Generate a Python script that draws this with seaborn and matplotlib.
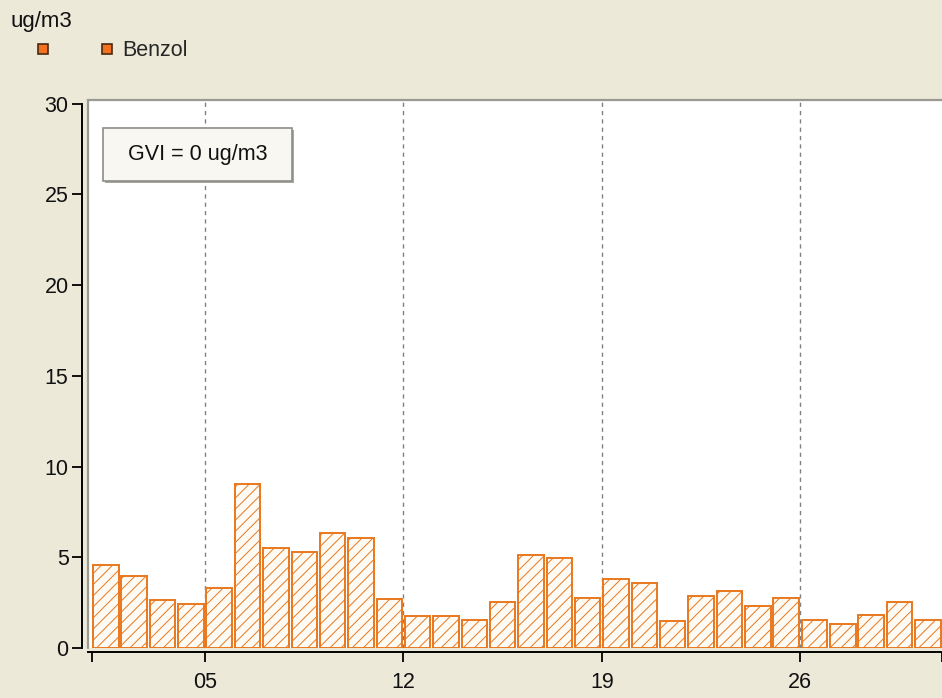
# Benzol daily means, one month, hatched bars like the old monitoring tool
import numpy as np
import pandas as pd
import seaborn as sns
import matplotlib.pyplot as plt
import matplotlib.patches as mpatches
from matplotlib.lines import Line2D

# data
days = list(range(1, 31))
benzol = [4.55, 3.95, 2.65, 2.45, 3.3, 9.05, 5.5, 5.3, 6.35, 6.05,
          2.7, 1.75, 1.75, 1.55, 2.55, 5.15, 4.95, 2.75, 3.8, 3.6,
          1.5, 2.85, 3.15, 2.3, 2.75, 1.55, 1.35, 1.8, 2.55, 1.55]
tick_days = [5, 12, 19, 26]
tick_labels = ["05", "12", "19", "26"]
edge_days = [1, 31]
y_ticks = [0, 5, 10, 15, 20, 25, 30]
unit = "ug/m3"
series_name = "Benzol"
gvi_text = "GVI = 0 ug/m3"

bg = "#ECE9D8"
orange = "#E8781E"

sns.set_theme(style="white")
plt.rcParams["font.family"] = ["Liberation Sans", "DejaVu Sans"]
plt.rcParams["hatch.linewidth"] = 0.7

W, H = 942, 698
fig = plt.figure(figsize=(W / 100, H / 100), dpi=100, facecolor=bg)
ax = fig.add_axes([88 / W, 1 - 648 / H, (942 - 88) / W, (648 - 100) / H])
ax.set_facecolor("white")

df = pd.DataFrame({"day": days, "value": benzol})
df["pos"] = df["day"] + 0.5

sns.barplot(data=df, x="pos", y="value", native_scale=True, width=0.9,
            color="#FFFAF3", edgecolor=orange, linewidth=1.4, hatch="///",
            ax=ax, zorder=3)

ax.set_xlim(0.87, 31.0)
ax.set_ylim(0, 30.2)
ax.set_xlabel("")
ax.set_ylabel("")

fs = 15.5
ax.set_xticks(tick_days)
ax.set_xticklabels(tick_labels)
ax.set_xticks(edge_days, minor=True)
ax.set_yticks(y_ticks)
ax.set_yticklabels([str(v) for v in y_ticks])
ax.tick_params(axis="both", which="both", direction="out", length=7, width=1.3,
               color="black", bottom=True, left=True, labelsize=fs,
               labelcolor="#111111")
ax.tick_params(axis="x", which="major", pad=7)
ax.tick_params(axis="y", pad=3)

ax.xaxis.grid(True, which="major", color="#808080", linestyle=(0, (3, 3)), linewidth=1)
ax.yaxis.grid(False)
ax.set_axisbelow(True)

for s in ["left", "bottom"]:
    ax.spines[s].set_color("black")
    ax.spines[s].set_linewidth(1.4)
ax.spines["left"].set_position(("outward", 4))
ax.spines["bottom"].set_position(("outward", 3))
ax.spines["left"].set_bounds(0, 30)
ax.spines["right"].set_visible(False)
ax.spines["top"].set_color("#9A9A92")
ax.spines["top"].set_linewidth(1.6)
ax.plot([0, 0], [0, 1], transform=ax.transAxes, color="#9A9A92", lw=1.6,
        clip_on=False, zorder=5)

# GVI box
bx0, by0, bw, bh = 103 / W, 1 - 181 / H, 189 / W, 53 / H
fig.patches.append(mpatches.Rectangle((bx0 + 2 / W, by0 - 2 / H), bw, bh,
                                      transform=fig.transFigure, facecolor="#A8A79C",
                                      edgecolor="none", zorder=5))
fig.patches.append(mpatches.Rectangle((bx0, by0), bw, bh, transform=fig.transFigure,
                                      facecolor="#F8F7F2", edgecolor="#8E8D86",
                                      linewidth=1.2, zorder=6))
fig.text(bx0 + bw / 2, by0 + bh / 2, gvi_text, ha="center", va="center",
         fontsize=fs, color="#111111", zorder=7)

# unit label and legend
fig.text(10 / W, 1 - 22 / H, unit, ha="left", va="center", fontsize=fs + 0.5,
         color="#111111")
handles = [Line2D([], [], marker="s", linestyle="none", markersize=6.5,
                  markerfacecolor="#F37021", markeredgecolor="#4A2A10", markeredgewidth=1.2)
           for _ in range(2)]
fig.legend(handles, ["", series_name], loc="center left",
           bbox_to_anchor=(34 / W, 1 - 51 / H), ncol=2, frameon=False,
           fontsize=fs, handlelength=0.8, handletextpad=0.33, columnspacing=1.85,
           borderpad=0, borderaxespad=0)

fig.savefig("out.png", dpi=100, facecolor=bg)
